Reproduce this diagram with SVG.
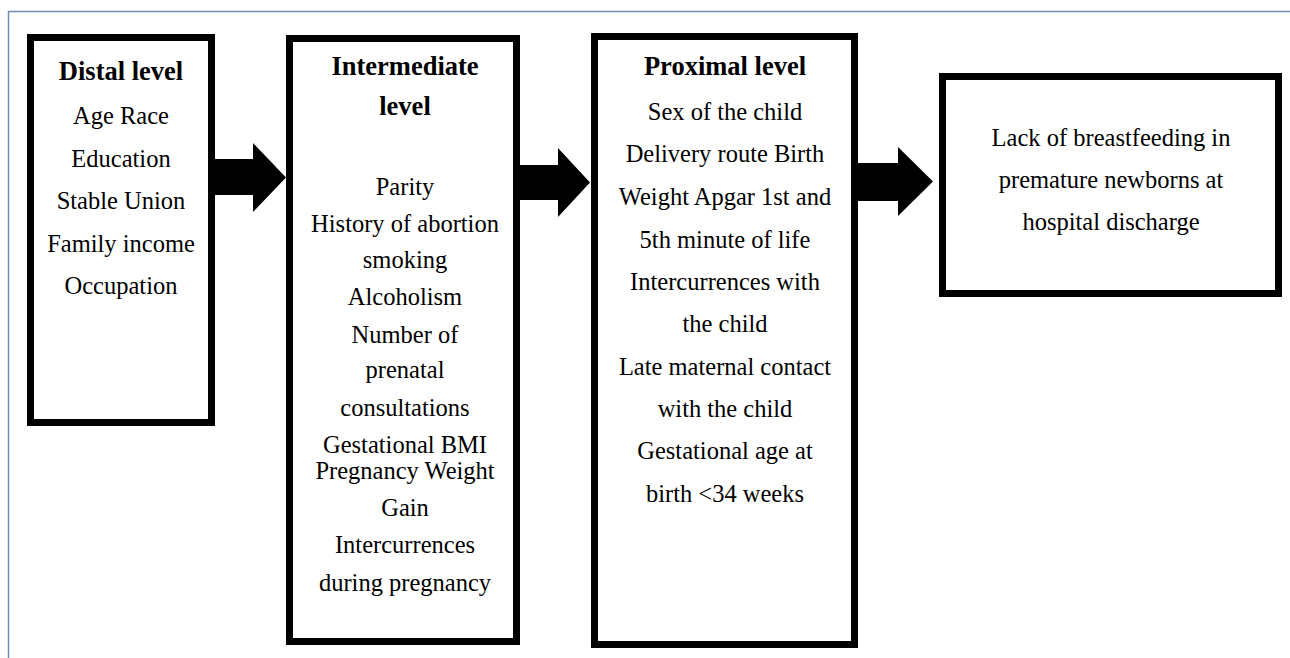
<svg xmlns="http://www.w3.org/2000/svg" width="1290" height="658" viewBox="0 0 1290 658">
<style>
.box{fill:#fff;stroke:#000;stroke-width:7}
.t{font-family:"Liberation Serif","Times New Roman",serif;font-size:24.5px;fill:#000;text-anchor:middle}
.b{font-weight:bold;font-size:26.5px}
.arrow{fill:#000}
</style>
<rect width="1290" height="658" fill="#fff"/>
<path d="M8.5 658 V11.5 H1290" fill="none" stroke="#6f8fb2" stroke-width="1.5"/>
<g id="distal">
<rect class="box" x="30.5" y="37.5" width="181" height="385"/>
<text class="t b" x="121" y="80">Distal level</text>
<text class="t" x="121" y="124">Age Race</text>
<text class="t" x="121" y="167">Education</text>
<text class="t" x="121" y="209">Stable Union</text>
<text class="t" x="121" y="252">Family income</text>
<text class="t" x="121" y="294">Occupation</text>
</g>
<g id="intermediate">
<rect class="box" x="289.5" y="38.5" width="227" height="603"/>
<text class="t b" x="405" y="75">Intermediate</text>
<text class="t b" x="405" y="115">level</text>
<text class="t" x="405" y="195">Parity</text>
<text class="t" x="405" y="232">History of abortion</text>
<text class="t" x="405" y="268">smoking</text>
<text class="t" x="405" y="305">Alcoholism</text>
<text class="t" x="405" y="343">Number of</text>
<text class="t" x="405" y="378">prenatal</text>
<text class="t" x="405" y="416">consultations</text>
<text class="t" x="405" y="453">Gestational BMI</text>
<text class="t" x="405" y="479">Pregnancy Weight</text>
<text class="t" x="405" y="516">Gain</text>
<text class="t" x="405" y="553">Intercurrences</text>
<text class="t" x="405" y="591">during pregnancy</text>
</g>
<g id="proximal">
<rect class="box" x="594.5" y="36.5" width="260" height="608"/>
<text class="t b" x="725" y="75">Proximal level</text>
<text class="t" x="725" y="120">Sex of the child</text>
<text class="t" x="725" y="162">Delivery route Birth</text>
<text class="t" x="725" y="205">Weight Apgar 1st and</text>
<text class="t" x="725" y="248">5th minute of life</text>
<text class="t" x="725" y="290">Intercurrences with</text>
<text class="t" x="725" y="332">the child</text>
<text class="t" x="725" y="375">Late maternal contact</text>
<text class="t" x="725" y="417">with the child</text>
<text class="t" x="725" y="459">Gestational age at</text>
<text class="t" x="725" y="502">birth &lt;34 weeks</text>
</g>
<g id="outcome">
<rect class="box" x="942.5" y="76.5" width="336" height="217"/>
<text class="t" x="1111" y="146">Lack of breastfeeding in</text>
<text class="t" x="1111" y="188">premature newborns at</text>
<text class="t" x="1111" y="230">hospital discharge</text>
</g>
<g id="connectors">
<polygon class="arrow" points="215,159 253,159 253,143 286,177.5 253,212 253,195 215,195"/>
<polygon class="arrow" points="520,165 558,165 558,148 590,182.5 558,217 558,200 520,200"/>
<polygon class="arrow" points="858,163 898,163 898,147 933,181.5 898,216 898,201 858,201"/>
</g>
</svg>
